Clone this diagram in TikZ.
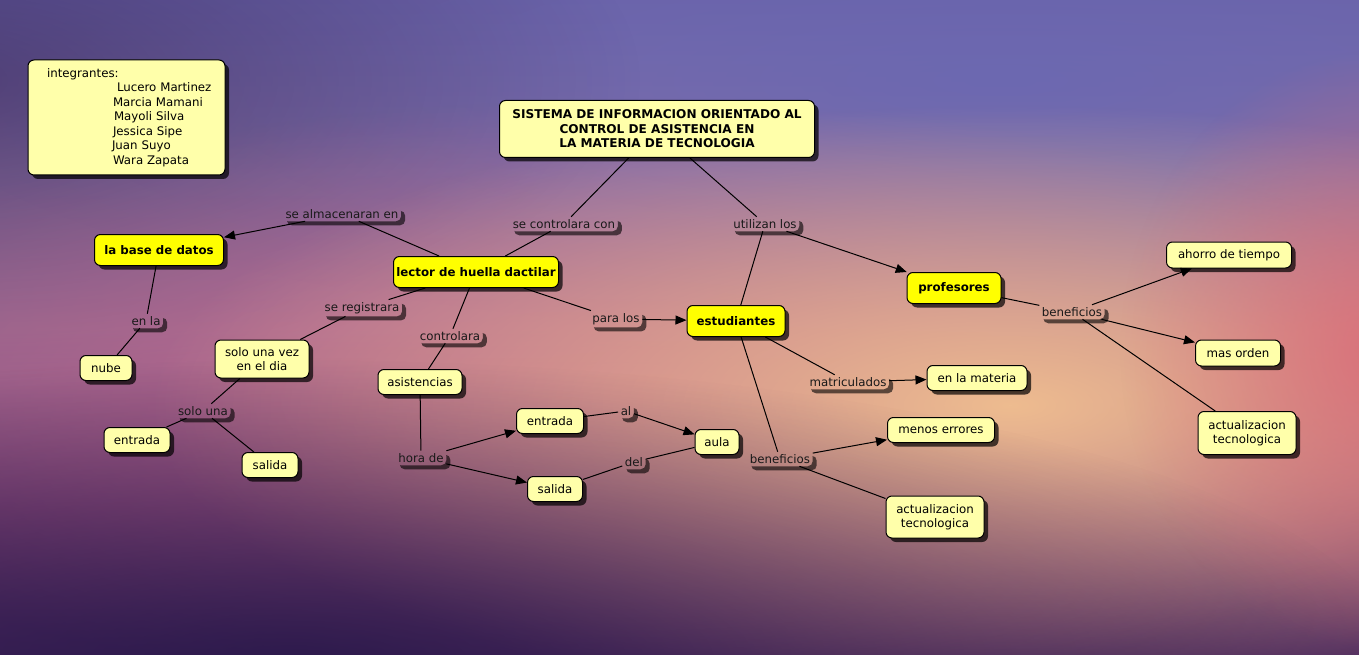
\documentclass[tikz,border=0pt]{standalone}
\usepackage{fontspec}
\setmainfont{DejaVu Sans}
\usetikzlibrary{arrows.meta,shadows,fadings}
\definecolor{cyel}{RGB}{255,255,0}
\definecolor{pyel}{RGB}{255,255,170}
\definecolor{glowor}{RGB}{238,188,144}
\definecolor{glowpk}{RGB}{200,108,140}
\definecolor{glowrd}{RGB}{222,106,118}
\definecolor{glowbl}{RGB}{104,104,180}
\definecolor{glowdk}{RGB}{36,22,72}
\pgfdeclareverticalshading{bgsh}{100bp}{%
  rgb(0bp)=(0.14,0.08,0.26);
  rgb(18bp)=(0.20,0.11,0.32);
  rgb(36bp)=(0.46,0.24,0.45);
  rgb(50bp)=(0.62,0.42,0.58);
  rgb(62bp)=(0.56,0.45,0.64);
  rgb(78bp)=(0.40,0.37,0.65);
  rgb(100bp)=(0.29,0.26,0.56)}
\tikzfading[name=glowfade, inner color=transparent!0, outer color=transparent!100]
\newcommand\lsh[1]{%
  \begin{scope}[even odd rule]
    \clip (-50,-50) rectangle (1450,750)
      [rounded corners=5pt] (#1.south west) rectangle (#1.north east);
    \fill[black, opacity=0.6, rounded corners=5pt]
      ([shift={(4pt,-4pt)}]#1.south west) rectangle ([shift={(4pt,-4pt)}]#1.north east);
  \end{scope}}
\begin{document}
\begin{tikzpicture}[x=1pt,y=-1pt,
  fnt/.style={font=\fontsize{11.8}{14.5}\selectfont},
  base/.style={fnt, draw=black, line width=1pt, rounded corners=6pt, inner sep=0pt, align=center,
    drop shadow={shadow xshift=4pt, shadow yshift=-4pt, opacity=0.7, fill=black}},
  concept/.style={base, fill=cyel, font=\fontsize{11.8}{14.5}\selectfont\bfseries, minimum height=31pt},
  pale/.style={base, fill=pyel, minimum height=25pt},
  lnk/.style={fnt, inner xsep=2.5pt, inner ysep=2.5pt, text=black!90},
  conn/.style={draw=black, line width=1pt},
  arr/.style={conn, -{Triangle[length=11pt,width=9pt]}}]
\useasboundingbox (0,0) rectangle (1359,655);
% background
\begin{scope}
  \clip (0,0) rectangle (1359,655);
  \shade[shading=bgsh] (0,0) rectangle (1359,655);
  \fill[glowbl, path fading=glowfade, opacity=0.8] (1000,80) ellipse [x radius=1100pt, y radius=260pt];
  \fill[glowdk, path fading=glowfade, opacity=0.5] (-60,80) ellipse [x radius=700pt, y radius=300pt];
  \fill[glowpk, path fading=glowfade, opacity=0.8] (620,400) ellipse [x radius=900pt, y radius=300pt];
  \fill[glowor, path fading=glowfade] (1010,405) ellipse [x radius=860pt, y radius=300pt];
  \fill[glowrd, path fading=glowfade, opacity=0.8] (1380,350) ellipse [x radius=260pt, y radius=300pt];
  \fill[glowdk, path fading=glowfade, opacity=0.8] (300,660) ellipse [x radius=1100pt, y radius=300pt];
\end{scope}
% integrantes box
\node[base, fill=pyel, minimum width=197pt, minimum height=115pt, text width=172pt, inner xsep=12.5pt, inner ysep=8pt, align=left,
  execute at begin node={\hyphenpenalty=10000\exhyphenpenalty=10000}] (intg) at (126.5,117.5)
 {\hspace*{6.5pt}integrantes:\\
  \hspace*{76.5pt}Lucero Martinez\\
  \hspace*{72.5pt}Marcia Mamani\\
  \hspace*{73.5pt}Mayoli Silva\\
  \hspace*{72.5pt}Jessica Sipe\\
  \hspace*{71.5pt}Juan Suyo\\
  \hspace*{72.5pt}Wara Zapata};
% title
\node[base, fill=pyel, font=\fontsize{12.1}{14.5}\selectfont\bfseries, minimum width=315pt, minimum height=57pt] (tit) at (657,129)
 {SISTEMA DE INFORMACION ORIENTADO AL\\CONTROL DE ASISTENCIA EN\\LA MATERIA DE TECNOLOGIA};
% concepts
\node[concept, minimum width=129pt] (bd) at (159,250) {la base de datos};
\node[concept, minimum width=165pt] (lec) at (476,272) {lector de huella dactilar};
\node[concept, minimum width=98pt] (est) at (736,321) {estudiantes};
\node[concept, minimum width=94pt] (prof) at (954,288) {profesores};
\node[pale, minimum width=52pt] (nube) at (106,368) {nube};
\node[pale, minimum width=94pt, minimum height=38pt] (sv) at (262,359) {solo una vez\\en el dia};
\node[pale, minimum width=66pt] (ent1) at (137,440) {entrada};
\node[pale, minimum width=56pt] (sal1) at (270,465) {salida};
\node[pale, minimum width=84pt] (asi) at (420,382) {asistencias};
\node[pale, minimum width=67pt] (ent2) at (550,421) {entrada};
\node[pale, minimum width=55pt] (sal2) at (555,489) {salida};
\node[pale, minimum width=44pt] (aula) at (717,442) {aula};
\node[pale, minimum width=100pt] (mat) at (977,378) {en la materia};
\node[pale, minimum width=107pt] (men) at (941,430) {menos errores};
\node[pale, minimum width=98pt, minimum height=42pt] (act1) at (935,517) {actualizacion\\tecnologica};
\node[pale, minimum width=125pt, minimum height=26pt] (aho) at (1229,255) {ahorro de tiempo};
\node[pale, minimum width=85pt, minimum height=26pt] (mas) at (1238,353) {mas orden};
\node[pale, minimum width=98pt, minimum height=43pt] (act2) at (1247,433) {actualizacion\\tecnologica};
% linking phrases
\node[lnk] (l1) at (342,214) {se almacenaran en};
\node[lnk] (l2) at (564,224) {se controlara con};
\node[lnk] (l3) at (765,224) {utilizan los};
\node[lnk] (l4) at (362,308) {se registrara};
\node[lnk] (l5) at (146,321) {en la};
\node[lnk] (l6) at (450,336) {controlara};
\node[lnk] (l7) at (616,319) {para los};
\node[lnk] (l8) at (203,411) {solo una};
\node[lnk] (l9) at (421,458) {hora de};
\node[lnk] (l10) at (626,411) {al};
\node[lnk] (l11) at (634,462) {del};
\node[lnk] (l12) at (848,382) {matriculados};
\node[lnk] (l13) at (780,459) {beneficios};
\node[lnk] (l14) at (1072,312) {beneficios};
\foreach \n in {l1,l2,l3,l4,l5,l6,l7,l8,l9,l10,l11,l12,l13,l14} {\lsh{\n}}
% connectors
\draw[conn] (tit) -- (l2);
\draw[conn] (l2) -- (lec);
\draw[conn] (tit) -- (l3);
\draw[arr] (l3) -- (prof);
\draw[conn] (l3) -- (est);
\draw[conn] (lec) -- (l1);
\draw[arr] (l1) -- (bd);
\draw[conn] (bd) -- (l5);
\draw[conn] (l5) -- (nube);
\draw[conn] (lec) -- (l4);
\draw[conn] (l4) -- (sv);
\draw[conn] (sv) -- (l8);
\draw[conn] (l8) -- (ent1);
\draw[conn] (l8) -- (sal1);
\draw[conn] (lec) -- (l6);
\draw[conn] (l6) -- (asi);
\draw[conn] (lec) -- (l7);
\draw[arr] (l7) -- (est);
\draw[conn] (asi) -- (l9);
\draw[arr] (l9) -- (ent2);
\draw[arr] (l9) -- (sal2);
\draw[conn] (ent2) -- (l10);
\draw[arr] (l10) -- (aula);
\draw[conn] (sal2) -- (l11);
\draw[conn] (l11) -- (aula);
\draw[conn] (est) -- (l12);
\draw[arr] (l12) -- (mat);
\draw[conn] (est) -- (l13);
\draw[arr] (l13) -- (men);
\draw[conn] (l13) -- (act1);
\draw[conn] (prof) -- (l14);
\draw[arr] (l14) -- (aho);
\draw[arr] (l14) -- (mas);
\draw[conn] (l14) -- (act2);
\end{tikzpicture}
\end{document}
